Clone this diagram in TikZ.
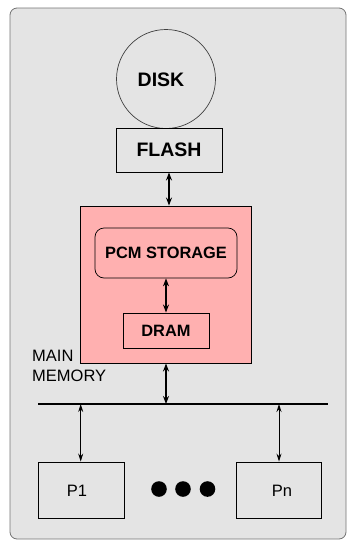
\documentclass[tikz,border=0pt]{standalone}
\usepackage{fontspec}
\setmainfont{Liberation Sans}
\usetikzlibrary{arrows.meta}
\definecolor{panelgray}{HTML}{E4E4E4}
\definecolor{memfill}{HTML}{FFB0B0}
\tikzset{
  box/.style={draw=black, line width=0.9pt, rectangle, inner sep=0pt},
  bigbold/.style={font=\fontsize{19.5}{22}\selectfont\bfseries},
  midbold/.style={font=\fontsize{16.4}{19}\selectfont\bfseries},
  plain/.style={font=\fontsize{16.5}{20}\selectfont},
  thicklink/.style={line width=1.8pt, {Stealth[length=8pt,width=6pt]}-{Stealth[length=8pt,width=6pt]}},
  thinlink/.style={line width=0.9pt, {Stealth[length=8pt,width=5pt]}-{Stealth[length=8pt,width=5pt]}},
  dot/.style={circle, fill=black, minimum size=15.6pt, inner sep=0pt}
}
\begin{document}
\begin{tikzpicture}[x=1pt,y=-1pt]
  \useasboundingbox (0,0) rectangle (347,542);
  % outer panel
  \draw[fill=panelgray, draw=black!55, line width=0.8pt, rounded corners=7pt] (10,8) rectangle (346,539);

  % storage hierarchy
  \node[box, circle, minimum size=99pt, draw=black!75, line width=0.7pt] (disk) at (166,79) {};
  \node[bigbold] (disklabel) at (161,80) {DISK};
  \node[box, fill=panelgray, minimum width=106pt, minimum height=44pt, bigbold] (flash) at (169,150) {FLASH};

  % main memory block
  \node[box, fill=memfill, minimum width=171pt, minimum height=157pt] (mem) at (165.5,284.5) {};
  \node[box, fill=memfill, rounded corners=9pt, minimum width=142pt, minimum height=50pt, midbold, line width=0.7pt] (pcm) at (166,253) {PCM STORAGE};
  \node[box, fill=memfill, minimum width=86pt, minimum height=35pt, midbold] (dram) at (166,330.5) {DRAM};
  \node[plain, align=left, anchor=north west, inner sep=0pt] (mmlabel) at (32,350) {MAIN\\MEMORY};

  % bus
  \coordinate (busL) at (38,404);
  \coordinate (busR) at (328,404);
  \coordinate (busM) at (166,404);
  \coordinate (bus1) at (80.7,404);
  \coordinate (busn) at (279,404);
  \draw[line width=2pt] (busL) -- (busR);

  % processors
  \node[box, fill=panelgray, minimum width=86pt, minimum height=56pt] (p1) at (81,490) {};
  \node[plain] (p1label) at (77,491) {P1};
  \node[box, fill=panelgray, minimum width=85pt, minimum height=56pt] (pn) at (278.5,490) {};
  \node[plain] (pnlabel) at (282,491) {Pn};
  \node[dot] (d1) at (159,489) {};
  \node[dot] (d2) at (183,489) {};
  \node[dot] (d3) at (207.5,489) {};

  % links
  \draw[thicklink] (flash.south) -- (flash.south |- mem.north);
  \draw[thicklink] (pcm.south) -- (pcm.south |- dram.north);
  \draw[thicklink] (mem.south -| busM) -- (busM);
  \draw[thinlink] (bus1) -- (bus1 |- p1.north);
  \draw[thinlink] (busn) -- (busn |- pn.north);
\end{tikzpicture}
\end{document}
